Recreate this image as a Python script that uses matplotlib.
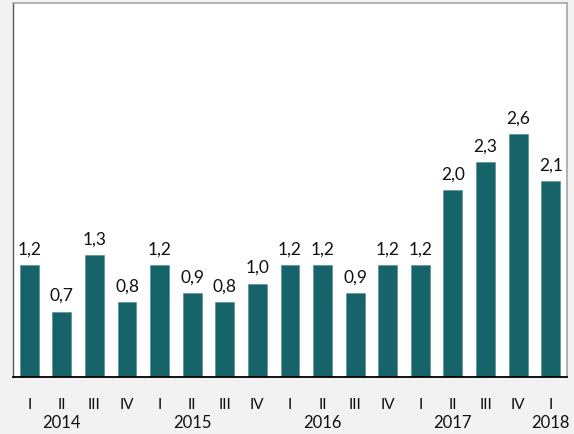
import matplotlib.pyplot as plt
import matplotlib.transforms as mtransforms
import numpy as np

plt.rcParams['font.family'] = ['Lato', 'DejaVu Sans']

# data
quarters = ['I', 'II', 'III', 'IV', 'I', 'II', 'III', 'IV', 'I', 'II', 'III', 'IV',
            'I', 'II', 'III', 'IV', 'I']
values = [1.2, 0.7, 1.3, 0.8, 1.2, 0.9, 0.8, 1.0, 1.2, 1.2, 0.9, 1.2,
          1.2, 2.0, 2.3, 2.6, 2.1]
years = ['2014', '2015', '2016', '2017', '2018']
year_pos = [1, 5, 9, 13, 16]

bar_color = '#17636a'

fig = plt.figure(figsize=(5.74, 4.34), dpi=100, facecolor='#f2f2f2')
ax = fig.add_axes([0.0226, 0.1313, 0.9652, 0.8618])
ax.set_facecolor('white')

x = np.arange(len(values))
bars = ax.bar(x, values, width=0.58, color=bar_color, edgecolor='#4f8a8e', linewidth=0.4)

# value labels with comma decimals
for xi, v in zip(x, values):
    ax.text(xi, v + 0.08, ('%.1f' % v).replace('.', ','), ha='center', va='bottom',
            fontsize=12.5, color='#111111')

ax.set_xlim(-0.5, 16.5)
ax.set_ylim(0, 4.0)
ax.set_xticks([])
ax.set_yticks([])

for s in ['top', 'right']:
    ax.spines[s].set_color('#a6a6a6')
    ax.spines[s].set_linewidth(1.2)
ax.spines['left'].set_color('#595959')
ax.spines['left'].set_linewidth(1.0)
ax.spines['bottom'].set_color('black')
ax.spines['bottom'].set_linewidth(1.3)

# quarter and year labels under the axis
trans = mtransforms.blended_transform_factory(ax.transData, fig.transFigure)
for xi, q in zip(x, quarters):
    ax.text(xi, (434 - 405) / 434, q, ha='center', va='center', fontsize=11,
            color='#111111', transform=trans)
for xp, y in zip(year_pos, years):
    ax.text(xp, (434 - 423) / 434, y, ha='center', va='center', fontsize=12,
            color='#111111', transform=trans)

fig.savefig('out.png', dpi=100, facecolor=fig.get_facecolor())
